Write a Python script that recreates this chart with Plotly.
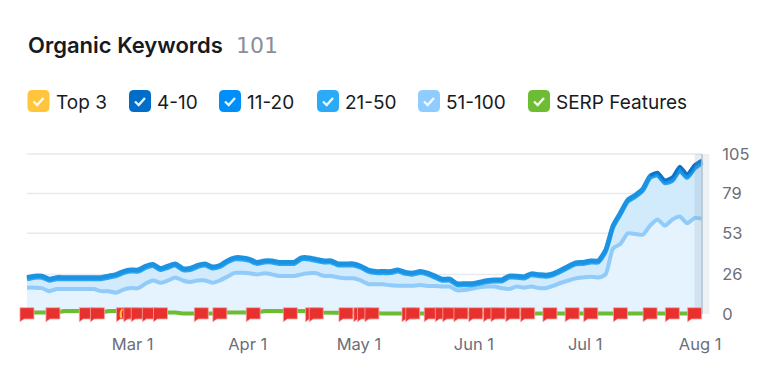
from datetime import date, datetime, timedelta
import plotly.graph_objects as go

W, H = 783, 366
START = date(2023, 1, 31)
SAMPLE_STEP = 2

total_keywords = [24,25,25,23,24,24,24,24,24,24,24,25,26,28,29,29,31.5,32.6,30,31.5,33,30,30,32,33,31,32,35,37,37,36,34,
                  35,35,34,34,34,37,37,36,35,35,33,33,33,31.5,29,28,28,28,29,27.5,27,28,27,25,23,23,20,20,20,21,22,22.5,22.5,25,25,24.5,
                  26.5,26,25.6,26.7,29,31.5,33.7,34,35,35,42,58,66.5,75,78,82,91,93,88,90,97,92,98,101]
kw_51_100 = [17.3,17.3,17,15,16.4,16.4,16.4,16.4,16.4,16.4,15,15,14,16,17,17,20,22,20.5,22,24,22,21,22,22,20.5,22,24.5,27,27,26.7,26,
             26.7,26,25,25,25,26,26.7,26.7,25,25,24,23.4,23.4,22,19.7,19.5,19.5,18.8,18.6,18.6,18.6,19,18.4,18.4,18,18,15.5,15.7,16.6,17.5,18,18,17,16.4,18,17.3,
             18,17,17,18.6,20.5,22,23.4,24,24.5,24,26,43,46,53,52.5,52,58,62,58,62,64,59.5,63,62.6]
kw_11_20 = [1] * 92
kw_4_10 = [0] * 84 + [0.5, 1, 1, 1.5, 2, 1.5, 1.5, 1]
serp_features = [1,1,1,1,1,2,2,2,1,1,1,2,2,1,1,1,1,1,1,1,1,0.3,0.3,0.3,0.3,0.3,0.3,1,1,1,1,1,
                 2,2,2,2,2,2,2,1,1,1,1,1,0.5,0.5,0.5,0.5,0.3,0.3,0.3,0.3,0.3,0.3,0.3,0.3,0.3,0.3,0.3,0.3,0.3,0.3,0.3,0.3,0.3,0.3,0.3,0.3,
                 0.3,0.3,0.3,0.3,0.3,0.3,0.3,0.3,0.3,0.3,0.3,0.3,0.3,0.3,0.3,0.3,0.3,0.3,0.3,0.3,0.3,0.3,0.3,0.3]
flag_days = [0,7,16,19,26,28,30,33,36,47,52,61,71,77,78,86,90,91,93,103,104,109,112,114,117,121,125,127,131,135,141,147,152,160,168,174,180]

y_ticks = [0, 26, 53, 79, 105]
x_tick_dates = ["2023-03-01", "2023-04-01", "2023-05-01", "2023-06-01", "2023-07-01", "2023-08-01"]
x_tick_labels = ["Mar 1", "Apr 1", "May 1", "Jun 1", "Jul 1", "Aug 1"]
legend_items = [("Top 3", "#FFC53D", 27.5, 54), ("4-10", "#006DCA", 129, 155), ("11-20", "#008FF8", 219, 245),
                ("21-50", "#2BAAF7", 317, 343), ("51-100", "#8FCCFF", 418, 444), ("SERP Features", "#6CBD34", 528, 554)]


def d2s(n):
    # samples sit half a day after the tick dates in the reference
    return (datetime(START.year, START.month, START.day, 12) + timedelta(days=n)).isoformat()


dates = [d2s(i * SAMPLE_STEP) for i in range(len(total_keywords))]
cum_51 = kw_51_100
cum_21 = [t - a - b for t, a, b in zip(total_keywords, kw_11_20, kw_4_10, strict=True)]
cum_11 = [t - b for t, b in zip(total_keywords, kw_4_10, strict=True)]
cum_4 = [t if b > 0 else None for t, b in zip(total_keywords, kw_4_10, strict=True)]

# plot-area pixel geometry
L, R, T, B = 14.0, 715.0, 150.0, 327.0
PX_PER_DAY = 3.706
X0 = 23.6
Y0, PX_PER_UNIT = 314.0, 160 / 105
x_range = [
    (START + timedelta(days=(L - X0) / PX_PER_DAY)).isoformat(),
    (START + timedelta(days=(R - X0) / PX_PER_DAY)).isoformat(),
]
y_range = [(Y0 - B) / PX_PER_UNIT, (Y0 - T) / PX_PER_UNIT]

smooth = dict(shape="spline", smoothing=0.6)
fig = go.Figure()
fig.add_trace(go.Scatter(x=dates, y=cum_51, mode="none", fill="tozeroy", fillcolor="#E4F3FE", hoverinfo="skip"))
fig.add_trace(go.Scatter(x=dates, y=cum_21, mode="none", fill="tonexty", fillcolor="#D2EBFC", hoverinfo="skip"))
fig.add_trace(go.Scatter(x=dates, y=cum_51, mode="lines", line=dict(color="#90CBF9", width=4, **smooth), hoverinfo="skip"))
fig.add_trace(go.Scatter(x=dates, y=cum_21, mode="lines", line=dict(color="#2AA6F2", width=4.5, **smooth), hoverinfo="skip"))
fig.add_trace(go.Scatter(x=dates, y=cum_11, mode="lines", line=dict(color="#1B93E2", width=4.5, **smooth), hoverinfo="skip"))
fig.add_trace(go.Scatter(x=dates, y=cum_4, mode="lines", line=dict(color="#0B75C9", width=3, **smooth), hoverinfo="skip"))
fig.add_trace(go.Scatter(x=dates, y=serp_features, mode="lines", line=dict(color="#6CBD34", width=4), hoverinfo="skip"))

shapes = []
for v in y_ticks[1:]:
    shapes.append(dict(type="line", xref="x", yref="y", x0=d2s(0), x1=d2s(182), y0=v, y1=v,
                       line=dict(color="#E7E9EC", width=1.5), layer="below"))

# hover crosshair band at the last date
shapes.append(dict(type="rect", xref="x", yref="y", x0=d2s(182), x1=d2s(184), y0=0, y1=105,
                   fillcolor="#EEF1F3", line_width=0, layer="below"))
shapes.append(dict(type="rect", xref="x", yref="y", x0=d2s(180), x1=d2s(182), y0=0, y1=105,
                   fillcolor="rgba(130,150,175,0.18)", line_width=0, layer="above"))
shapes.append(dict(type="line", xref="x", yref="y", x0=d2s(182), x1=d2s(182), y0=0, y1=105,
                   line=dict(color="#AFC3D2", width=1.5), layer="above"))

FLAG_PATH = "M-7,6.3 L7,6.3 L7,-5 L-3,-5 L-7,-7.8 Z"
for d in flag_days:
    shapes.append(dict(type="path", xref="x", yref="y", xsizemode="pixel", ysizemode="pixel",
                       xanchor=d2s(d), yanchor=0, path=FLAG_PATH, fillcolor="#E8302E",
                       line=dict(color="#F6A6A2", width=0.8), layer="above"))
shapes.append(dict(type="path", xref="x", yref="y", xsizemode="pixel", ysizemode="pixel",
                   xanchor=d2s(26), yanchor=0, path="M-1,5 Q-4,1 -2,-4", fillcolor="rgba(0,0,0,0)",
                   line=dict(color="#FFC53D", width=2), layer="above"))


def px_x(x):
    return x / W


def px_y(y):
    return 1 - y / H


def pt(x, y):
    return f"{px_x(x):.5f},{px_y(y):.5f}"


annotations = [
    dict(text="Organic Keywords", x=px_x(26), y=px_y(45), xref="paper", yref="paper", xanchor="left", yanchor="middle",
         showarrow=False, font=dict(family="Inter", size=22, color="#171A22", weight=600)),
    dict(text="101", x=px_x(234), y=px_y(45), xref="paper", yref="paper", xanchor="left", yanchor="middle",
         showarrow=False, font=dict(family="DejaVu Sans", size=22, color="#8A8E9B")),
]

S = 22
for label, color, bx, tx in legend_items:
    by = 90
    r = 5
    path = (f"M{pt(bx+r,by)} L{pt(bx+S-r,by)} Q{pt(bx+S,by)} {pt(bx+S,by+r)} L{pt(bx+S,by+S-r)} "
            f"Q{pt(bx+S,by+S)} {pt(bx+S-r,by+S)} L{pt(bx+r,by+S)} Q{pt(bx,by+S)} {pt(bx,by+S-r)} "
            f"L{pt(bx,by+r)} Q{pt(bx,by)} {pt(bx+r,by)} Z")
    shapes.append(dict(type="path", xref="paper", yref="paper", path=path, fillcolor=color, line_width=0, layer="above"))
    check = f"M{pt(bx+6,by+11.5)} L{pt(bx+9.7,by+15)} L{pt(bx+16,by+8)}"
    shapes.append(dict(type="path", xref="paper", yref="paper", path=check, fillcolor="rgba(0,0,0,0)",
                       line=dict(color="rgba(255,255,255,0.9)", width=2.4), layer="above"))
    annotations.append(dict(text=label, x=px_x(tx), y=px_y(103), xref="paper", yref="paper", xanchor="left",
                            yanchor="middle", showarrow=False,
                            font=dict(family="Inter", size=19, color="#171A22")))

fig.update_layout(
    width=W, height=H, margin=dict(l=0, r=0, t=0, b=0, autoexpand=False),
    paper_bgcolor="white", plot_bgcolor="rgba(0,0,0,0)", showlegend=False,
    shapes=shapes, annotations=annotations,
    xaxis=dict(type="date", domain=[L / W, R / W], range=x_range, showgrid=False, zeroline=False, showline=False,
               tickmode="array", tickvals=x_tick_dates, ticktext=x_tick_labels, ticks="outside", ticklen=2,
               tickcolor="rgba(0,0,0,0)", tickfont=dict(family="Inter", size=16.5, color="#6C6E79")),
    yaxis=dict(domain=[1 - B / H, 1 - T / H], range=y_range, showgrid=False, zeroline=False, showline=False,
               side="right", tickmode="array", tickvals=y_ticks, ticks="outside", ticklen=3,
               tickcolor="rgba(0,0,0,0)", tickfont=dict(family="Inter", size=16.5, color="#6C6E79")),
)

fig.write_html("out.html", config=dict(displayModeBar=False),
               post_script="document.body.style.margin='0';")
